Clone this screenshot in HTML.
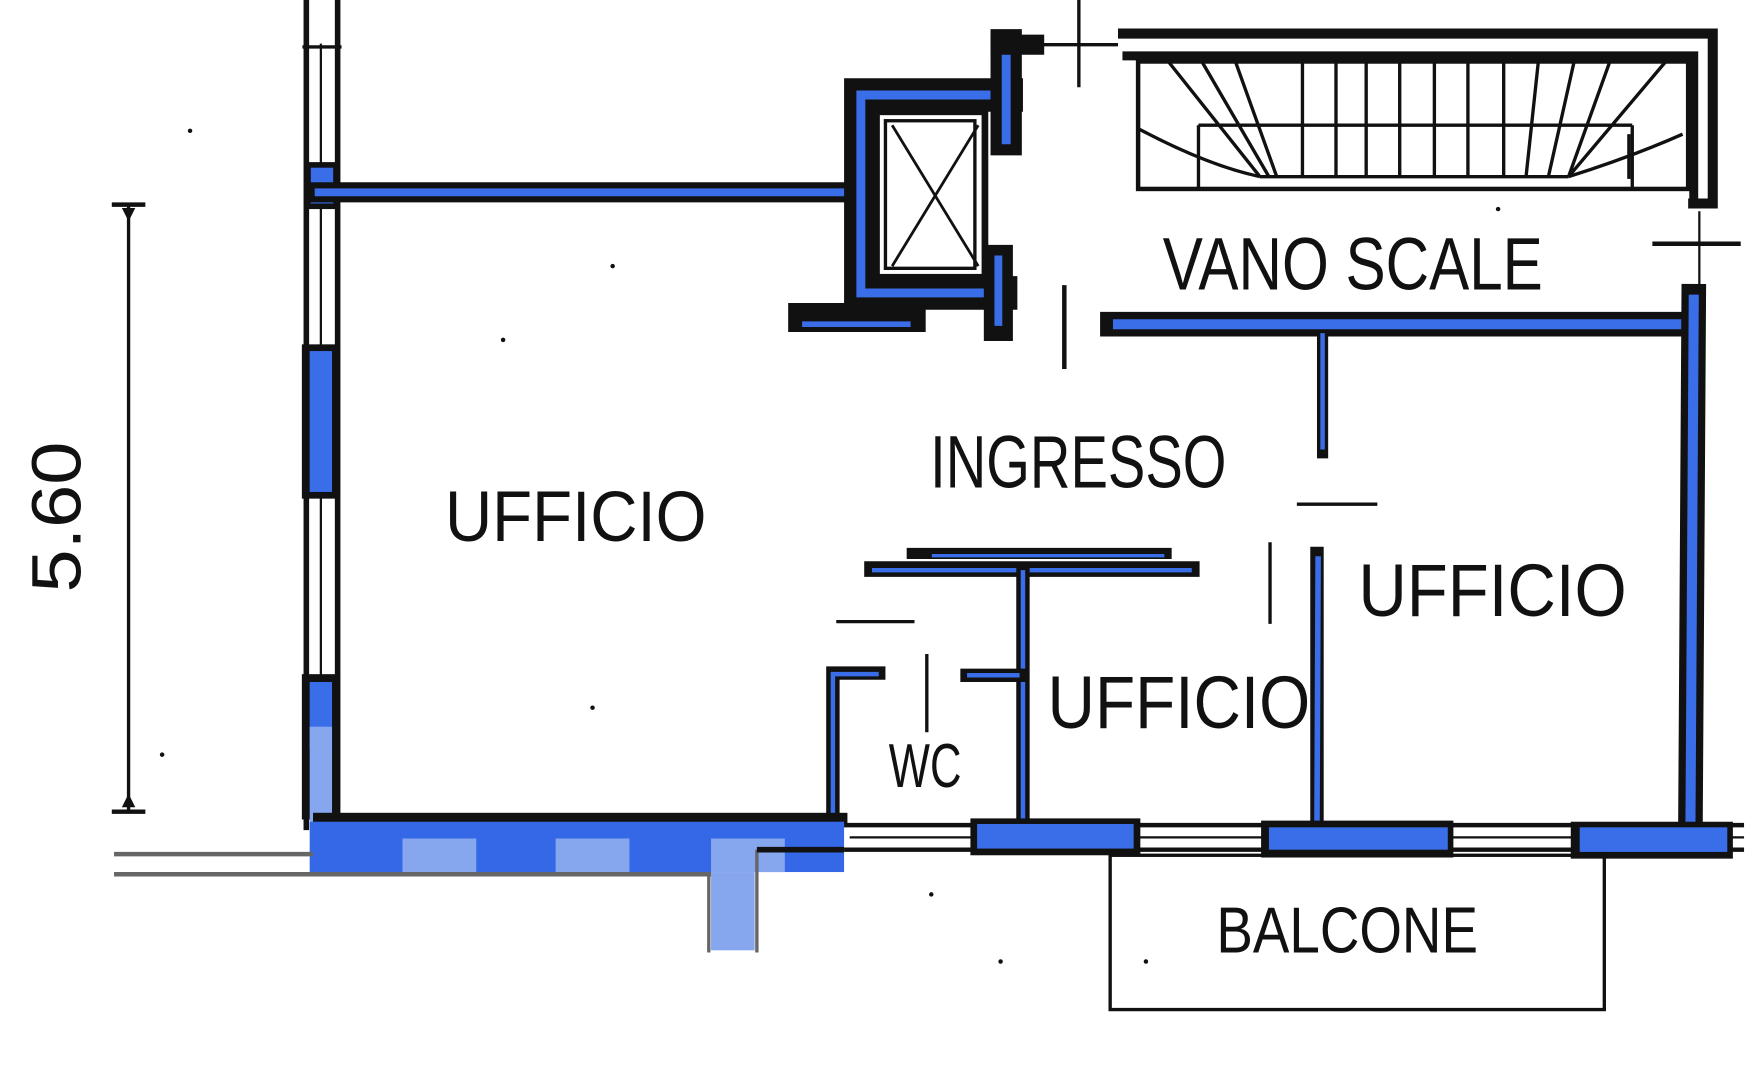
<!DOCTYPE html>
<html><head><meta charset="utf-8"><style>
html,body{margin:0;padding:0;background:#fff;width:1753px;height:1080px;overflow:hidden}
svg{display:block}
text{font-family:"Liberation Sans",sans-serif;fill:#111}
</style></head><body>
<svg width="1753" height="1080" viewBox="0 0 1568 966" preserveAspectRatio="none" xmlns="http://www.w3.org/2000/svg">
<g fill="none" stroke="#111" stroke-linecap="square">
<line x1="274" y1="0" x2="274" y2="740" stroke-width="5"/>
<line x1="302" y1="0" x2="302" y2="740" stroke-width="5"/>
<line x1="287" y1="40" x2="287" y2="740" stroke-width="2"/>
<line x1="272" y1="42" x2="304" y2="42" stroke-width="3"/>
</g>
<rect x="272" y="145" width="32" height="42" fill="#111"/>
<rect x="278" y="150" width="20" height="32" fill="#3a6ee8"/>
<rect x="270" y="308" width="34" height="138" fill="#111"/>
<rect x="277" y="314" width="20" height="126" fill="#3a6ee8"/>
<rect x="270" y="603" width="34" height="130" fill="#111"/>
<rect x="277" y="610" width="20" height="60" fill="#3a6ee8"/>
<rect x="277" y="650" width="20" height="90" fill="#86a6ee"/>

<g stroke-linecap="square" fill="none">
<line x1="285" y1="172" x2="760" y2="172" stroke="#111" stroke-width="18"/>
<line x1="285" y1="172" x2="760" y2="172" stroke="#3a6ee8" stroke-width="7"/>
<path d="M770 85 H900 M770 85 V262 H895" stroke="#111" stroke-width="30"/>
<path d="M770 85 H900 M770 85 V262 H895" stroke="#3a6ee8" stroke-width="8"/>
<path d="M900 40 V125" stroke="#111" stroke-width="28"/>
<path d="M900 40 V125" stroke="#3a6ee8" stroke-width="8"/>
<path d="M895 40 H925" stroke="#111" stroke-width="18"/>
<path d="M893 232 V292" stroke="#111" stroke-width="26"/>
<path d="M893 232 V288" stroke="#3a6ee8" stroke-width="7"/>
<path d="M718 284 H815" stroke="#111" stroke-width="26"/>
<path d="M720 290 H812" stroke="#3a6ee8" stroke-width="5"/>
</g>
<rect x="784" y="100" width="97" height="148" fill="#fff" stroke="#111" stroke-width="6"/>
<rect x="792" y="108" width="80" height="132" fill="#fff" stroke="#111" stroke-width="3"/>
<path d="M798 112 L875 238 M875 112 L798 238" stroke="#111" stroke-width="2.5"/>
<line x1="925" y1="40" x2="1000" y2="40" stroke="#111" stroke-width="3"/>
<line x1="965" y1="0" x2="965" y2="78" stroke="#111" stroke-width="3"/>
<line x1="952" y1="255" x2="952" y2="330" stroke="#111" stroke-width="4"/>

<path d="M1000 30 H1532 V182 H1510" fill="none" stroke="#111" stroke-width="9"/>
<path d="M1004 50 H1515 V178" fill="none" stroke="#111" stroke-width="8"/>
<rect x="1018" y="55" width="492" height="114" fill="none" stroke="#111" stroke-width="4"/>
<g stroke="#111" stroke-width="3" fill="none">
<path d="M1072 112 H1460 M1072 112 V170 M1460 112 V170"/>
<path d="M1127 158 H1403"/>
<path d="M1018 115 Q1080 148 1127 158 M1403 158 Q1460 140 1505 120"/>
<path d="M1045 55 L1127 158 M1075 55 L1135 158 M1105 55 L1142 158"/>
<path d="M1165 55 V158 M1195 55 V158 M1222 55 V158 M1252 55 V158 M1283 55 V158 M1313 55 V158 M1345 55 V158"/>
<path d="M1376 55 L1365 158 M1408 55 L1385 158 M1440 55 L1403 158 M1490 55 L1403 158"/>
<path d="M1457 120 V160"/>
</g>
<g stroke-linecap="square" fill="none">
<line x1="995" y1="290" x2="1512" y2="290" stroke="#111" stroke-width="22"/>
<line x1="1000" y1="290" x2="1508" y2="290" stroke="#3a6ee8" stroke-width="9"/>
<line x1="1515" y1="265" x2="1512" y2="745" stroke="#111" stroke-width="22"/>
<line x1="1515" y1="268" x2="1512" y2="745" stroke="#3a6ee8" stroke-width="9"/>
<line x1="1183" y1="300" x2="1183" y2="405" stroke="#111" stroke-width="10"/>
<line x1="1183" y1="300" x2="1183" y2="400" stroke="#3a6ee8" stroke-width="4"/>
<line x1="1178" y1="495" x2="1178" y2="735" stroke="#111" stroke-width="12"/>
<line x1="1179" y1="500" x2="1178" y2="735" stroke="#3a6ee8" stroke-width="5"/>
<line x1="1520" y1="190" x2="1520" y2="260" stroke="#111" stroke-width="2"/>
<line x1="1480" y1="218" x2="1555" y2="218" stroke="#111" stroke-width="4"/>
<line x1="780" y1="509" x2="1066" y2="509" stroke="#111" stroke-width="14"/>
<line x1="782" y1="510" x2="1064" y2="510" stroke="#3a6ee8" stroke-width="4"/>
<line x1="816" y1="495" x2="1043" y2="495" stroke="#111" stroke-width="10"/>
<line x1="835" y1="497" x2="1040" y2="497" stroke="#3a6ee8" stroke-width="3"/>
<line x1="915" y1="509" x2="915" y2="735" stroke="#111" stroke-width="12"/>
<line x1="915" y1="512" x2="915" y2="735" stroke="#3a6ee8" stroke-width="4"/>
<line x1="865" y1="604" x2="912" y2="604" stroke="#111" stroke-width="12"/>
<line x1="867" y1="604" x2="910" y2="604" stroke="#3a6ee8" stroke-width="4"/>
<path d="M745 735 V602 H786" stroke="#111" stroke-width="12"/>
<path d="M745 735 V603 H784" stroke="#3a6ee8" stroke-width="4"/>
</g>
<g stroke="#111" stroke-width="3">
<line x1="1160" y1="451" x2="1232" y2="451"/>
<line x1="1136" y1="485" x2="1136" y2="558"/>
<line x1="748" y1="556" x2="818" y2="556"/>
<line x1="829" y1="585" x2="829" y2="655"/>
</g>

<rect x="280" y="727" width="478" height="10" fill="#111"/>
<rect x="277" y="735" width="478" height="45" fill="#3468e6"/>
<rect x="360" y="750" width="66" height="30" fill="#86a6ee"/>
<rect x="497" y="750" width="66" height="30" fill="#86a6ee"/>
<rect x="636" y="750" width="66" height="30" fill="#86a6ee"/>
<rect x="636" y="780" width="39" height="70" fill="#86a6ee"/>
<path d="M634 782 V852 M677 760 V852" stroke="#666" stroke-width="3"/>
<path d="M677 760 H755" stroke="#111" stroke-width="5"/>
<line x1="102" y1="764" x2="280" y2="764" stroke="#666" stroke-width="4"/>
<line x1="102" y1="782" x2="636" y2="782" stroke="#666" stroke-width="4"/>
<g stroke="#111" stroke-width="4">
<line x1="755" y1="738" x2="1560" y2="738"/>
<line x1="755" y1="760" x2="1560" y2="760"/>
<line x1="760" y1="749" x2="1560" y2="749" stroke-width="2"/>
</g>
<rect x="868" y="732" width="152" height="33" fill="#111"/>
<rect x="874" y="737" width="140" height="22" fill="#3a6ee8"/>
<rect x="1128" y="734" width="172" height="33" fill="#111"/>
<rect x="1135" y="740" width="160" height="20" fill="#3a6ee8"/>
<rect x="1405" y="735" width="145" height="33" fill="#111"/>
<rect x="1413" y="740" width="132" height="22" fill="#3a6ee8"/>
<rect x="993" y="765" width="442" height="138" fill="none" stroke="#111" stroke-width="3"/>
<g stroke="#111">
<line x1="115" y1="182" x2="115" y2="727" stroke-width="3"/>
<line x1="100" y1="183" x2="130" y2="183" stroke-width="4"/>
<line x1="100" y1="726" x2="130" y2="726" stroke-width="4"/>
</g>
<path d="M109 186 L121 186 L115 198 Z M109 722 L121 722 L115 710 Z" fill="#111"/>
<g fill="#111"><circle cx="170" cy="117" r="2"/><circle cx="548" cy="238" r="2"/><circle cx="530" cy="633" r="2"/><circle cx="145" cy="675" r="2"/><circle cx="833" cy="800" r="2"/><circle cx="895" cy="860" r="2"/><circle cx="1025" cy="860" r="2"/><circle cx="1340" cy="187" r="2"/><circle cx="450" cy="304" r="2"/></g>
<text x="398" y="484" font-size="64" textLength="234" lengthAdjust="spacingAndGlyphs">UFFICIO</text>
<text x="832" y="436" font-size="66" textLength="265" lengthAdjust="spacingAndGlyphs">INGRESSO</text>
<text x="1040" y="259" font-size="66" textLength="340" lengthAdjust="spacingAndGlyphs">VANO SCALE</text>
<text x="1215" y="551" font-size="66" textLength="240" lengthAdjust="spacingAndGlyphs">UFFICIO</text>
<text x="937" y="651" font-size="66" textLength="235" lengthAdjust="spacingAndGlyphs">UFFICIO</text>
<text x="795" y="704" font-size="56" textLength="65" lengthAdjust="spacingAndGlyphs">WC</text>
<text x="1088" y="852" font-size="58" textLength="234" lengthAdjust="spacingAndGlyphs">BALCONE</text>
<text transform="translate(72,530) rotate(-90)" font-size="62" textLength="135" lengthAdjust="spacingAndGlyphs">5.60</text>
</svg>
</body></html>
